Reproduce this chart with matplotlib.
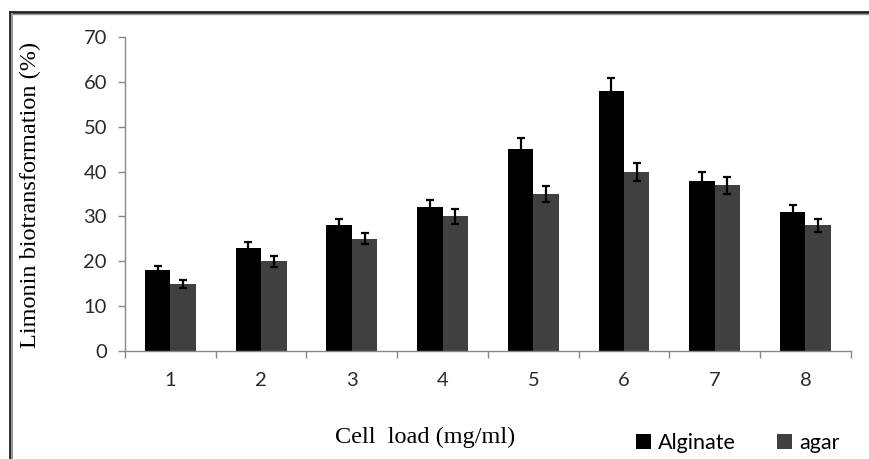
import numpy as np
import matplotlib.pyplot as plt
from matplotlib.lines import Line2D

# data
loads = ['1', '2', '3', '4', '5', '6', '7', '8']
alginate = [18, 23, 28, 32, 45, 58, 38, 31]
alginate_err = [1.0, 1.2, 1.5, 1.6, 2.4, 2.9, 1.9, 1.5]
agar = [15, 20, 25, 30, 35, 40, 37, 28]
agar_err = [0.85, 1.2, 1.2, 1.6, 1.7, 2.0, 1.9, 1.5]

fig = plt.figure(figsize=(8.7, 4.59), dpi=100)
ax = fig.add_axes([0.1437, 0.2353, 0.8343, 0.6841])

x = np.arange(len(loads))
w = 0.28
err_kw = dict(ecolor='black', elinewidth=1.6, capsize=3, capthick=1.6)
ax.bar(x - w/2, alginate, w, color='#000000', yerr=alginate_err,
       error_kw=err_kw, label='Alginate')
ax.bar(x + w/2, agar, w, color='#404040', yerr=agar_err,
       error_kw=err_kw, label='agar')

ax.set_xlim(-0.5, len(loads) - 0.5)
ax.set_ylim(0, 70)
ax.set_yticks(range(0, 71, 10))

# excel style: ticks between categories, labels in the middle
ax.set_xticks(np.arange(-0.5, len(loads), 1.0))
ax.set_xticklabels([])
ax.set_xticks(x, minor=True)
ax.set_xticklabels(loads, minor=True)
ax.tick_params(axis='x', which='major', length=5, color='#888888', width=1)
ax.tick_params(axis='x', which='minor', length=0, pad=15, labelsize=14.5,
               labelcolor='#2a2a2a')
ax.tick_params(axis='y', length=5, color='#888888', width=1, labelsize=14.5,
               labelcolor='#2a2a2a', pad=8)
for lab in ax.get_xticklabels(minor=True) + ax.get_yticklabels():
    lab.set_family('Lato')

for s in ['top', 'right']:
    ax.spines[s].set_visible(False)
for s in ['left', 'bottom']:
    ax.spines[s].set_color('#888888')
    ax.spines[s].set_linewidth(1)

fig.text(0.489, 0.048, 'Cell  load (mg/ml)', family='Liberation Serif',
         fontsize=17.5, ha='center', va='center')
fig.text(0.035, 0.575, 'Limonin biotransformation (%)', family='Liberation Serif',
         fontsize=17.5, rotation=90, ha='center', va='center')

leg = fig.legend(loc='center', bbox_to_anchor=(0.848, 0.035), ncol=2,
                 frameon=False, handlelength=0.7, handleheight=0.7,
                 handletextpad=0.35, columnspacing=1.9,
                 prop={'family': 'Lato', 'size': 15.5})

# cropped frame: top and left border lines
fig.add_artist(Line2D([0.011, 1.0], [0.974, 0.974], color='#222222', lw=2))
fig.add_artist(Line2D([0.011, 0.011], [0.0, 0.974], color='#222222', lw=2))
fig.add_artist(Line2D([0.0135, 0.0135], [0.0, 0.970], color='#999999', lw=1.5))
fig.add_artist(Line2D([0.0135, 1.0], [0.970, 0.970], color='#999999', lw=1.0))

fig.savefig('out.png', dpi=100)
